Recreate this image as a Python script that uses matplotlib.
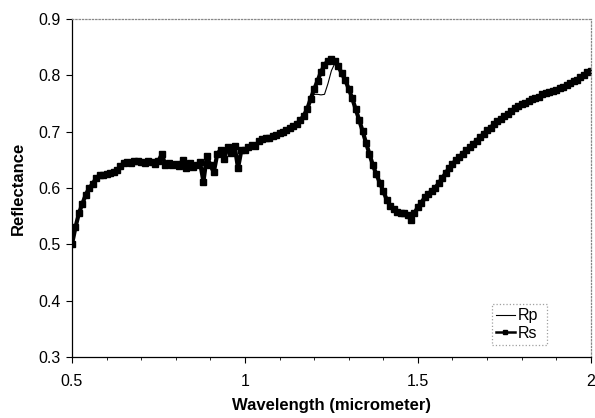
import numpy as np
import matplotlib.pyplot as plt
from matplotlib.ticker import MultipleLocator

plt.rcParams['font.family'] = ['Liberation Sans', 'DejaVu Sans']

# Longueur d'onde (micrometre), pas de 0.01
wavelength = np.round(np.arange(0.50, 2.0001, 0.01), 2)

# Reflectance Rs (carres)
Rs = [
    0.500, 0.530, 0.555, 0.572, 0.588, 0.600, 0.607, 0.618, 0.622, 0.623,  # 0.50-0.59
    0.625, 0.627, 0.629, 0.632, 0.638, 0.645, 0.646, 0.645, 0.647, 0.648,  # 0.60-0.69
    0.646, 0.645, 0.647, 0.646, 0.643, 0.648, 0.660, 0.640, 0.645, 0.641,  # 0.70-0.79
    0.643, 0.639, 0.650, 0.636, 0.645, 0.637, 0.640, 0.646, 0.611, 0.657,  # 0.80-0.89
    0.640, 0.628, 0.660, 0.668, 0.652, 0.672, 0.662, 0.675, 0.635, 0.668,  # 0.90-0.99
    0.668, 0.672, 0.676, 0.674, 0.683, 0.686, 0.688, 0.689, 0.692, 0.694,  # 1.00-1.09
    0.697, 0.700, 0.703, 0.706, 0.709, 0.714, 0.720, 0.728, 0.740, 0.758,  # 1.10-1.19
    0.775, 0.790, 0.806, 0.818, 0.826, 0.828, 0.825, 0.816, 0.803, 0.791,  # 1.20-1.29
    0.776, 0.759, 0.740, 0.721, 0.701, 0.680, 0.660, 0.640, 0.624, 0.609,  # 1.30-1.39
    0.594, 0.579, 0.568, 0.562, 0.558, 0.556, 0.555, 0.552, 0.543, 0.555,  # 1.40-1.49
    0.566, 0.574, 0.583, 0.589, 0.595, 0.600, 0.608, 0.617, 0.626, 0.635,  # 1.50-1.59
    0.643, 0.649, 0.655, 0.661, 0.667, 0.672, 0.678, 0.684, 0.690, 0.696,  # 1.60-1.69
    0.702, 0.707, 0.713, 0.718, 0.722, 0.727, 0.731, 0.737, 0.741, 0.745,  # 1.70-1.79
    0.748, 0.751, 0.754, 0.757, 0.760, 0.762, 0.766, 0.768, 0.770, 0.772,  # 1.80-1.89
    0.773, 0.777, 0.779, 0.782, 0.786, 0.789, 0.792, 0.796, 0.801, 0.805,  # 1.90-1.99
    0.808,                                                                 # 2.00
]

# Reflectance Rp (trait fin)
Rp = [
    0.500, 0.530, 0.555, 0.572, 0.588, 0.600, 0.607, 0.618, 0.622, 0.623,
    0.625, 0.627, 0.629, 0.632, 0.638, 0.645, 0.646, 0.645, 0.647, 0.648,
    0.646, 0.645, 0.647, 0.646, 0.643, 0.648, 0.655, 0.642, 0.645, 0.641,
    0.643, 0.640, 0.648, 0.638, 0.645, 0.638, 0.640, 0.645, 0.615, 0.655,
    0.640, 0.630, 0.658, 0.666, 0.653, 0.670, 0.662, 0.673, 0.638, 0.667,
    0.668, 0.672, 0.675, 0.674, 0.682, 0.685, 0.688, 0.689, 0.692, 0.694,
    0.697, 0.700, 0.703, 0.706, 0.709, 0.714, 0.720, 0.727, 0.738, 0.755,
    0.766, 0.766, 0.765, 0.766, 0.785, 0.808, 0.821, 0.816, 0.803, 0.791,
    0.776, 0.759, 0.740, 0.721, 0.701, 0.680, 0.660, 0.640, 0.624, 0.609,
    0.594, 0.579, 0.568, 0.562, 0.558, 0.556, 0.555, 0.553, 0.548, 0.551,
    0.560, 0.568, 0.577, 0.584, 0.590, 0.595, 0.602, 0.611, 0.620, 0.629,
    0.637, 0.644, 0.650, 0.656, 0.662, 0.667, 0.673, 0.679, 0.685, 0.691,
    0.697, 0.702, 0.708, 0.713, 0.717, 0.722, 0.726, 0.732, 0.736, 0.740,
    0.744, 0.747, 0.750, 0.753, 0.756, 0.758, 0.762, 0.764, 0.766, 0.768,
    0.770, 0.773, 0.776, 0.779, 0.783, 0.786, 0.789, 0.793, 0.798, 0.803,
    0.807,
]

fig = plt.figure(figsize=(5.95, 4.18), dpi=100)
ax = fig.add_axes([0.121, 0.146, 0.872, 0.809])

ax.plot(wavelength, Rp, color='black', lw=0.8, label='Rp', zorder=3)
ax.plot(wavelength, Rs, color='black', lw=3.0, marker='s', markersize=4.6,
        label='Rs', zorder=2)

ax.set_xlim(0.5, 2.0)
ax.set_ylim(0.3, 0.9)
ax.set_xticks([0.5, 1.0, 1.5, 2.0])
ax.set_xticklabels(['0.5', '1', '1.5', '2'])
ax.xaxis.set_minor_locator(MultipleLocator(0.1))
ax.set_yticks(np.arange(0.3, 0.91, 0.1))
ax.set_yticklabels(['0.3', '0.4', '0.5', '0.6', '0.7', '0.8', '0.9'])

ax.tick_params(axis='both', which='major', direction='out', length=4,
               width=0.8, labelsize=11.5, pad=4)
ax.tick_params(axis='x', which='minor', direction='out', length=2, width=0.6)
ax.tick_params(axis='x', which='major', pad=8)

for s in ['top', 'right']:
    ax.spines[s].set_linestyle(':')
    ax.spines[s].set_color('#888888')
    ax.spines[s].set_linewidth(0.9)
for s in ['left', 'bottom']:
    ax.spines[s].set_color('black')
    ax.spines[s].set_linewidth(0.9)

ax.set_xlabel('Wavelength (micrometer)', fontsize=12, fontweight='bold',
              labelpad=7)
ax.set_ylabel('Reflectance', fontsize=12, fontweight='bold', labelpad=9)

leg = ax.legend(loc='lower left', bbox_to_anchor=(0.809, 0.036, 0.106, 0.139),
                mode='expand', fontsize=11.5, handlelength=1.2,
                handletextpad=0.2, borderpad=0.25, labelspacing=0.15,
                borderaxespad=0, fancybox=False, frameon=True,
                markerscale=0.65)
for h in leg.get_lines():
    h.set_linewidth(min(h.get_linewidth(), 1.8))
frame = leg.get_frame()
frame.set_linestyle(':')
frame.set_edgecolor('#888888')
frame.set_linewidth(0.9)

fig.savefig('out.png', dpi=100)
